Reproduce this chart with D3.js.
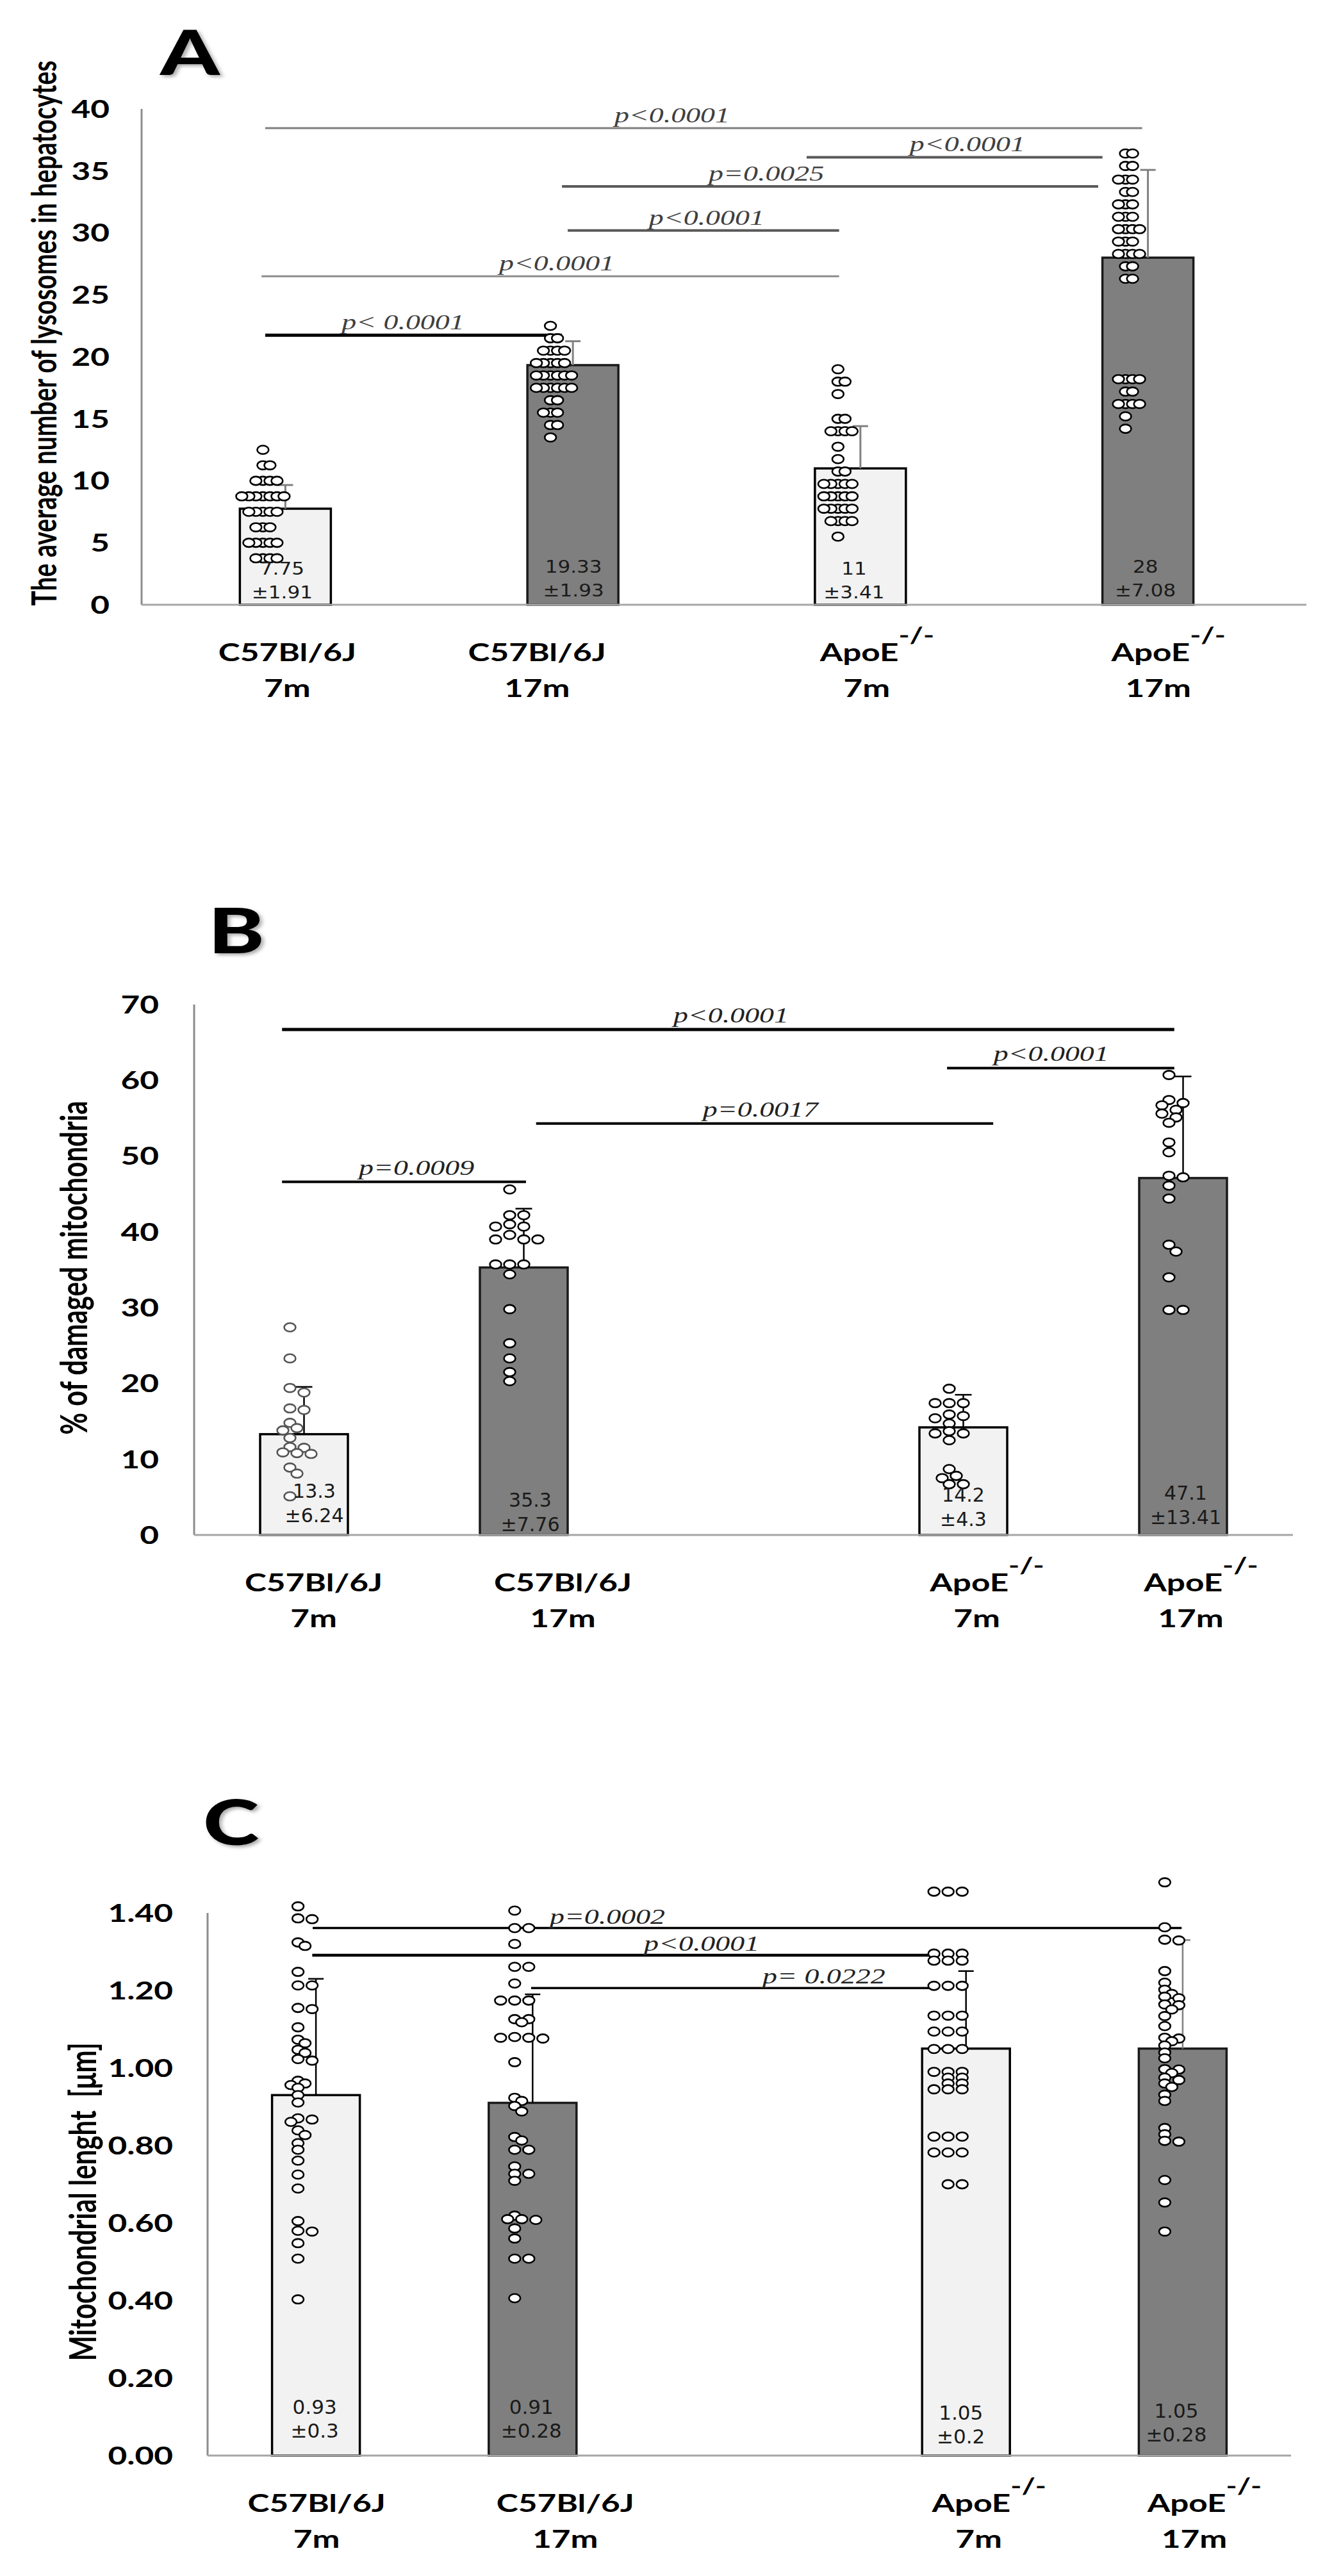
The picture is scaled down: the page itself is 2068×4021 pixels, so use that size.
<!DOCTYPE html>
<html>
<head>
<meta charset="utf-8">
<title>Lysosomes and mitochondria in hepatocytes</title>
<script src="https://d3js.org/d3.v7.min.js"></script>
<style>
  body { margin: 0; background: #fff; }
  svg text { white-space: pre; }
  .bold { font-family: Lato, "Open Sans", sans-serif; font-weight: 700; fill: #000; }
  .letter { font-family: Lato, "DejaVu Sans", sans-serif; font-weight: 900; fill: #000; }
  .pval { font-family: "Liberation Serif", "DejaVu Serif", serif; font-style: italic; }
  .mean { font-family: "DejaVu Sans", sans-serif; fill: #1a1a1a; }
</style>
</head>
<body>
<svg id="fig" width="2068" height="4021"></svg>
<script>
// the source figure was stretched sideways, so glyphs and markers get widened by SX
const SX = 1.35;

// groups (same four in every panel)
const strains = ["C57Bl/6J", "C57Bl/6J", "ApoE", "ApoE"];
const ages = ["7m", "17m", "7m", "17m"];
const knockout = [false, false, true, true];

// A - lysosomes per hepatocyte
const lysoTicks = [0, 5, 10, 15, 20, 25, 30, 35, 40];
const lysoMean = [7.75, 19.33, 11, 28];
const lysoSD = [1.91, 1.93, 3.41, 7.08];
const lysoDots = [
  [12.5, 11.25, 11.25, 10, 10, 10, 10, 8.75, 8.75, 8.75, 8.75, 8.75, 8.75, 8.75,
   7.5, 7.5, 7.5, 7.5, 7.5, 6.25, 6.25, 6.25, 5, 5, 5, 5, 5, 3.75, 3.75, 3.75, 3.75],
  [22.5, 21.5, 21.5, 20.5, 20.5, 20.5, 20.5, 19.5, 19.5, 19.5, 19.5, 19.5,
   18.5, 18.5, 18.5, 18.5, 18.5, 18.5, 17.5, 17.5, 17.5, 17.5, 17.5, 17.5,
   16.5, 16.5, 15.5, 15.5, 15.5, 14.5, 14.5, 13.5],
  [19, 18, 18, 17, 15, 15, 14, 14, 14, 14, 12.75, 11.75, 10.75, 10.75,
   9.75, 9.75, 9.75, 9.75, 9.75, 8.75, 8.75, 8.75, 8.75, 8.75,
   7.75, 7.75, 7.75, 7.75, 7.75, 6.75, 6.75, 6.75, 6.75, 5.5],
  [36.4, 36.4, 35.4, 35.4, 34.3, 34.3, 34.3, 33.3, 33.3, 32.3, 32.3, 32.3,
   31.3, 31.3, 31.3, 30.3, 30.3, 30.3, 30.3, 29.3, 29.3, 29.3, 28.3, 28.3, 28.3, 28.3,
   27.3, 27.3, 26.3, 26.3, 18.2, 18.2, 18.2, 18.2, 17.2, 17.2,
   16.2, 16.2, 16.2, 16.2, 15.2, 14.2]
];
// comparisons: ends and label spot in group-slot units, level in data units
const lysoTests = [
  { from: -0.07, to: 2.98, level: 38.45, label: "p<0.0001", at: 1.345 },
  { from: 1.813, to: 2.842, level: 36.1, label: "p<0.0001", at: 2.372 },
  { from: 0.962, to: 2.827, level: 33.75, label: "p=0.0025", at: 1.673 },
  { from: 0.982, to: 1.926, level: 30.2, label: "p<0.0001", at: 1.465 },
  { from: -0.083, to: 1.926, level: 26.5, label: "p<0.0001", at: 0.944 },
  { from: -0.07, to: 0.962, level: 21.75, label: "p< 0.0001", at: 0.409 }
];

// B - damaged mitochondria
const damTicks = [0, 10, 20, 30, 40, 50, 60, 70];
const damMean = [13.3, 35.3, 14.2, 47.1];
const damSD = [6.24, 7.76, 4.3, 13.41];
const damDots = [
  [27.4, 23.3, 19.4, 18.8, 16.7, 16.5, 14.8, 14.1, 13.8, 12.8, 11.6, 11.5,
   10.9, 10.8, 10.7, 8.9, 8.1, 5.1],
  [45.6, 42.2, 42.2, 41.0, 40.7, 40.7, 39.6, 39.0, 39.0, 39.0, 35.7, 35.7, 35.7,
   34.4, 29.8, 25.3, 23.3, 21.5, 20.3],
  [19.3, 17.4, 17.4, 17.4, 15.9, 15.7, 15.4, 14.7, 13.7, 13.4, 13.4, 12.5,
   8.7, 7.8, 7.5, 6.7, 6.7],
  [60.7, 57.4, 57.0, 56.7, 56.1, 55.6, 55.1, 54.4, 51.8, 50.5, 47.4, 47.2, 46.1,
   44.4, 38.3, 37.4, 34.0, 29.7, 29.7]
];
const damTests = [
  { from: -0.10, to: 3.96, level: 66.7, label: "p<0.0001", at: 1.943 },
  { from: 2.926, to: 3.96, level: 61.6, label: "p<0.0001", at: 3.40 },
  { from: 1.056, to: 3.136, level: 54.3, label: "p=0.0017", at: 2.077 },
  { from: -0.10, to: 1.01, level: 46.6, label: "p=0.0009", at: 0.512 }
];

// C - mitochondrial length
const lenTicks = [0, 0.2, 0.4, 0.6, 0.8, 1.0, 1.2, 1.4];
const lenMean = [0.93, 0.91, 1.05, 1.05];
const lenSD = [0.3, 0.28, 0.2, 0.28];
const lenDots = [
  [1.417, 1.386, 1.384, 1.324, 1.315, 1.248, 1.213, 1.213, 1.155, 1.152, 1.105,
   1.073, 1.064, 1.047, 1.039, 1.023, 1.019, 0.967, 0.960, 0.956, 0.949, 0.930,
   0.911, 0.870, 0.867, 0.861, 0.839, 0.827, 0.806, 0.789, 0.761, 0.725, 0.689,
   0.605, 0.580, 0.578, 0.548, 0.508, 0.403],
  [1.406, 1.361, 1.361, 1.320, 1.261, 1.261, 1.218, 1.174, 1.174, 1.174, 1.126,
   1.126, 1.118, 1.080, 1.078, 1.078, 1.076, 1.015, 0.923, 0.915, 0.902, 0.888,
   0.822, 0.813, 0.789, 0.789, 0.746, 0.727, 0.727, 0.709, 0.619, 0.610, 0.610,
   0.608, 0.586, 0.560, 0.508, 0.508, 0.406],
  [1.455, 1.455, 1.455, 1.295, 1.295, 1.295, 1.277, 1.277, 1.277, 1.212, 1.212,
   1.212, 1.135, 1.135, 1.135, 1.094, 1.094, 1.094, 1.049, 1.049, 1.049,
   0.99, 0.99, 0.99, 0.975, 0.975, 0.96, 0.96, 0.945, 0.945, 0.945,
   0.823, 0.823, 0.823, 0.782, 0.782, 0.782, 0.70, 0.70],
  [1.479, 1.363, 1.331, 1.329, 1.250, 1.220, 1.202, 1.191, 1.184, 1.180, 1.164,
   1.162, 1.151, 1.134, 1.108, 1.078, 1.076, 1.069, 1.058, 1.040, 1.025, 0.997,
   0.996, 0.987, 0.975, 0.969, 0.960, 0.951, 0.931, 0.915, 0.845, 0.829, 0.812,
   0.810, 0.711, 0.653, 0.578]
];
const lenTests = [
  { from: -0.015, to: 3.995, level: 1.361, label: "p=0.0002", at: 1.345 },
  { from: -0.017, to: 2.859, level: 1.291, label: "p<0.0001", at: 1.78 },
  { from: 0.993, to: 2.865, level: 1.206, label: "p= 0.0222", at: 2.344 }
];

const barFill = ["#f2f2f2", "#7f7f7f", "#f2f2f2", "#7f7f7f"];
const barStroke = ["#000", "#1a1a1a", "#000", "#1a1a1a"];

const panels = [
  {
    letter: "A", letterX: 250, letterY: 117,
    title: "The average number of lysosomes in hepatocytes", titleX: 88, titleY: 520, titleSize: 39,
    ticks: lysoTicks, fmt: d3.format("d"), mean: lysoMean, sd: lysoSD, dots: lysoDots, tests: lysoTests,
    left: 221, right: 2016, axisEnd: 2039, top: 170, base: 944, tickPad: 50,
    slots: 4, slotOf: [0, 1, 2, 3], barW: 142,
    dotShift: -35, dotGap: 11, dotMin: 8, dotStroke: ["#000", "#000", "#000", "#000"],
    errColor: ["#808080", "#808080", "#808080", "#808080"], errW: 3, capW: 24,
    testColor: ["#7f7f7f", "#595959", "#595959", "#595959", "#8c8c8c", "#000"],
    testW: [3, 4, 4, 4, 3, 5], pColor: "#404040", pGap: 9,
    meanSize: 27, meanSX: 1.15, meanDx: [-5, 1, -10, -4], meanDy: [0, -3, 0, -3], meanRows: [-47, -10],
    labelDx: [3, -56, 10, 16]
  },
  {
    letter: "B", letterX: 325, letterY: 1488,
    title: "% of damaged mitochondria", titleX: 136, titleY: 1979, titleSize: 42,
    ticks: damTicks, fmt: d3.format("d"), mean: damMean, sd: damSD, dots: damDots, tests: damTests,
    left: 303, right: 2018, axisEnd: 2018, top: 1568, base: 2396, tickPad: 55,
    slots: 5, slotOf: [0, 1, 3, 4], barW: 137,
    dotShift: -22, dotGap: 11, dotMin: 11, dotStroke: ["#555", "#000", "#000", "#000"],
    errColor: ["#000", "#000", "#000", "#000"], errW: 2.5, capW: 26,
    testColor: ["#000", "#000", "#000", "#000"], testW: [5, 4, 4, 4], pColor: "#222", pGap: 11,
    meanSize: 30, meanSX: 1.0, meanDx: [16, 10, 0, 4], meanDy: [-6, 8, 0, -3], meanRows: [-52, -14],
    labelDx: [15, 61, 21, 12]
  },
  {
    letter: "C", letterX: 317, letterY: 2880,
    title: "Mitochondrial lenght  [\u03bcm]", titleX: 150, titleY: 3437, titleSize: 42,
    ticks: lenTicks, fmt: d3.format(".2f"), mean: lenMean, sd: lenSD, dots: lenDots, tests: lenTests,
    left: 324, right: 2015, axisEnd: 2015, top: 2986, base: 3833, tickPad: 54,
    slots: 5, slotOf: [0, 1, 3, 4], barW: 137,
    dotShift: -28, dotGap: 11, dotMin: 9, dotStroke: ["#000", "#000", "#000", "#000"],
    errColor: ["#000", "#000", "#000", "#7f7f7f"], errW: 2.5, capW: 24,
    testColor: ["#000", "#000", "#000"], testW: [3.5, 4.5, 3.5], pColor: "#222", pGap: 7,
    meanSize: 31, meanSX: 1.0, meanDx: [-2, -2, -8, -10], meanDy: [-5, -5, 4, 1], meanRows: [-60, -23],
    labelDx: [1, 51, 20, 18]
  }
];

const svg = d3.select("#fig");
svg.append("rect").attr("width", 2068).attr("height", 4021).attr("fill", "#fff");
svg.append("defs").append("filter").attr("id", "soft")
  .append("feDropShadow").attr("dx", 3).attr("dy", 3).attr("stdDeviation", 2.5)
  .attr("flood-color", "#777").attr("flood-opacity", 0.6);

// text widened sideways like the source
function wideText(sel, x, y, str, cls, size, anchor, sx = SX) {
  return sel.append("text").attr("class", cls).attr("font-size", size)
    .attr("text-anchor", anchor)
    .attr("transform", `translate(${x},${y}) scale(${sx},1)`)
    .text(str);
}

// simple swarm: keep each marker on its value, push sideways until it is free
function swarm(values, cx, y, gap, minD) {
  const placed = [];
  values.forEach(v => {
    const py = y(v);
    for (let k = 0; ; k++) {
      const px = cx + (k % 2 ? 1 : -1) * Math.ceil(k / 2) * gap;
      const free = placed.every(q => Math.hypot((q.x - px) / SX, q.y - py) >= minD);
      if (free || k > 30) { placed.push({ x: px, y: py }); break; }
    }
  });
  return placed;
}

panels.forEach(drawPanel);

function drawPanel(p) {
  const g = svg.append("g");
  const x = d3.scaleBand().domain(d3.range(p.slots)).range([p.left, p.right]);
  const cx = i => x(p.slotOf[i]) + x.bandwidth() / 2;
  const slot = d3.scaleLinear().domain([0, 1]).range([cx(0), cx(0) + x.step()]);
  const y = d3.scaleLinear().domain([0, d3.max(p.ticks)]).range([p.base, p.top]);

  // panel letter
  wideText(g, p.letterX, p.letterY, p.letter, "letter", 98, "start")
    .attr("filter", "url(#soft)");

  // y axis
  const ax = g.append("g").attr("transform", `translate(${p.left},0)`)
    .call(d3.axisLeft(y).tickValues(p.ticks).tickFormat(p.fmt).tickSize(0).tickPadding(0));
  ax.select(".domain").remove();
  ax.selectAll("text").attr("class", "bold").attr("font-size", 38)
    .attr("x", -p.tickPad / SX).attr("dy", "0.35em")
    .attr("transform", `scale(${SX},1)`);

  g.append("line").attr("x1", p.left).attr("x2", p.left)
    .attr("y1", y(d3.max(p.ticks))).attr("y2", p.base)
    .attr("stroke", "#8c8c8c").attr("stroke-width", 3);

  // axis title
  g.append("text").attr("class", "bold").attr("font-size", p.titleSize)
    .attr("text-anchor", "middle")
    .attr("transform", `translate(${p.titleX},${p.titleY}) scale(${SX},1) rotate(-90)`)
    .text(p.title);

  // bars
  g.selectAll(".bar").data(p.mean).join("rect").attr("class", "bar")
    .attr("x", (d, i) => cx(i) - p.barW / 2).attr("y", d => y(d))
    .attr("width", p.barW).attr("height", d => p.base - y(d))
    .attr("fill", (d, i) => barFill[i]).attr("stroke", (d, i) => barStroke[i])
    .attr("stroke-width", 3.5);

  // x axis
  g.append("line").attr("x1", p.left).attr("x2", p.axisEnd)
    .attr("y1", p.base).attr("y2", p.base)
    .attr("stroke", "#a6a6a6").attr("stroke-width", 3);

  // upper error bars
  p.mean.forEach((m, i) => {
    const c = cx(i), top = y(m + p.sd[i]);
    g.append("line").attr("x1", c).attr("x2", c).attr("y1", y(m)).attr("y2", top)
      .attr("stroke", p.errColor[i]).attr("stroke-width", p.errW);
    g.append("line").attr("x1", c - p.capW / 2).attr("x2", c + p.capW / 2)
      .attr("y1", top).attr("y2", top)
      .attr("stroke", p.errColor[i]).attr("stroke-width", p.errW);
  });

  // comparison lines
  p.tests.forEach((t, i) => {
    g.append("line").attr("x1", slot(t.from)).attr("x2", slot(t.to))
      .attr("y1", y(t.level)).attr("y2", y(t.level))
      .attr("stroke", p.testColor[i]).attr("stroke-width", p.testW[i]);
  });

  // individual values
  p.dots.forEach((vals, i) => {
    const pts = swarm(vals, cx(i) + p.dotShift, y, p.dotGap, p.dotMin);
    g.append("g").selectAll("ellipse").data(pts).join("ellipse")
      .attr("cx", d => d.x).attr("cy", d => d.y)
      .attr("rx", 6.6 * SX).attr("ry", 6.6)
      .attr("fill", "#fff").attr("stroke", p.dotStroke[i]).attr("stroke-width", 2.6);
  });

  // p-value labels
  p.tests.forEach(t => {
    wideText(g, slot(t.at), y(t.level) - p.pGap, t.label, "pval", 34, "middle")
      .attr("fill", p.pColor);
  });

  // mean and SD inside bars
  p.mean.forEach((m, i) => {
    const mx = cx(i) + p.meanDx[i];
    wideText(g, mx, p.base + p.meanRows[0] + p.meanDy[i], String(m), "mean", p.meanSize, "middle", p.meanSX);
    wideText(g, mx, p.base + p.meanRows[1] + p.meanDy[i], "\u00b1" + p.sd[i], "mean", p.meanSize, "middle", p.meanSX);
  });

  // group labels
  strains.forEach((s, i) => {
    const lx = cx(i) + p.labelDx[i];
    const t = wideText(g, lx + (knockout[i] ? 16 : 0), p.base + 88, s, "bold", 38, "middle");
    if (knockout[i]) t.append("tspan").attr("font-size", 34).attr("dy", -28).text("-/-");
    wideText(g, lx, p.base + 144, ages[i], "bold", 38, "middle");
  });
}
</script>
</body>
</html>
